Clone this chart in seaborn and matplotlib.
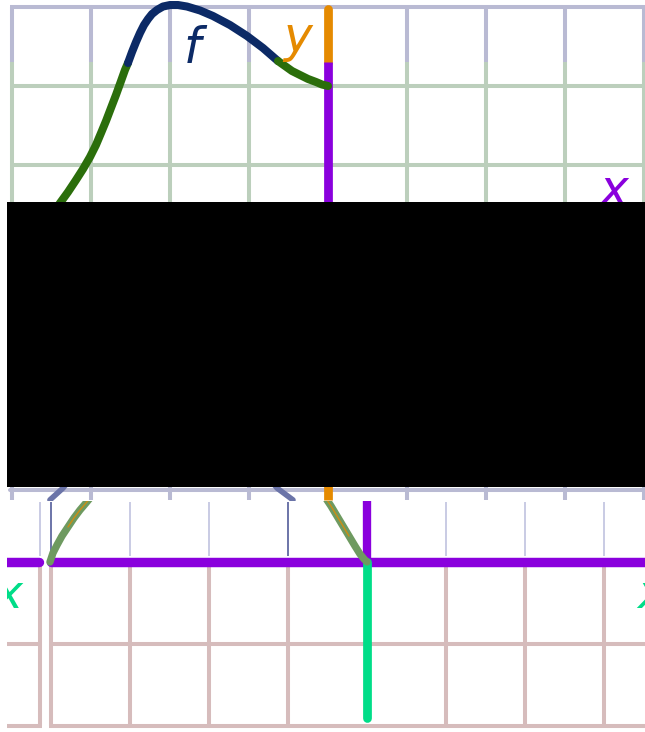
import matplotlib
matplotlib.use("Agg")
import matplotlib.pyplot as plt
from matplotlib.patches import Rectangle
import seaborn as sns
import pandas as pd

sns.set_theme(style="white")
plt.rcParams['font.family'] = ['DejaVu Sans']

# ---------------- data (units of one grid cell) ----------------
# top panel: curve f
f_x = [-3.494, -3.392, -3.291, -3.190, -3.101, -3.013, -2.937, -2.873,
       -2.810, -2.747, -2.684, -2.620, -2.570, -2.532, -2.481, -2.430,
       -2.380, -2.329, -2.278, -2.228, -2.165, -2.089, -2.000, -1.899,
       -1.785, -1.620, -1.456, -1.241, -1.025, -0.823, -0.633, -0.544,
       -0.456, -0.354, -0.253, -0.152, -0.076, 0.0]
f_y = [0.367, 0.519, 0.658, 0.810, 0.949, 1.101, 1.253, 1.405,
       1.557, 1.722, 1.886, 2.063, 2.203, 2.291, 2.430, 2.557,
       2.671, 2.772, 2.848, 2.911, 2.962, 3.006, 3.025, 3.025,
       3.006, 2.956, 2.886, 2.772, 2.633, 2.481, 2.316, 2.253,
       2.190, 2.139, 2.089, 2.051, 2.019, 2.000]
# index ranges of the three coloured pieces (boundary points shared)
f_pieces = {"low1": (0, 13), "high": (13, 30), "low2": (30, 37)}
f_threshold = 2.3

top_grid_x = [-4, -3, -2, -1, 1, 2, 3, 4]
top_grid_y = [3, 2, 1, 0, -1, -2]
top_bottom_line = -3.11

# slate pieces near the lower edge of the top panel
slate_a_x = [-3.52, -3.354, -3.29]
slate_a_y = [-3.24, -3.089, -3.01]
slate_b_x = [-0.709, -0.646, -0.443]
slate_b_y = [-3.01, -3.089, -3.24]

# bottom panel: curve g pieces
g1_x = [-4.013, -3.975, -3.924, -3.861, -3.785, -3.709, -3.633, -3.557, -3.506]
g1_y = [0.0, 0.110, 0.207, 0.317, 0.427, 0.537, 0.634, 0.720, 0.780]
g2_x = [-0.532, -0.456, -0.380, -0.304, -0.228, -0.152, -0.089, -0.038, 0.0]
g2_y = [0.793, 0.683, 0.561, 0.439, 0.317, 0.195, 0.098, 0.037, 0.0]

bot_grid_x = [-4, -3, -2, -1, 1, 2, 3]
bot_grid_y = [-1, -2]
left_border = -4.14

labels_top = ["f", "y", "x"]
labels_bottom = ["x", "x"]

# ---------------- colours ----------------
LAV = "#b9bad3"
GRN = "#bccfbc"
BRN = "#d6bcbc"
PURPLE = "#8a00dd"
ORANGE = "#e58a00"
MINT = "#00dd88"
DKGREEN = "#2b6e0b"
NAVY = "#0c2a66"
GGRAY = "#6e9a60"
SLATE = "#6b74a8"

W, H = 645, 732
fig = plt.figure(figsize=(W / 100, H / 100), dpi=100)
fig.patch.set_facecolor("white")

# ---------------- top panel ----------------
axT = fig.add_axes([7 / W, (H - 501) / H, 638 / W, 501 / H])
axT.set_xlim((7 - 328) / 79, (645 - 328) / 79)
axT.set_ylim((244 - 501) / 79, 244 / 79)
axT.set_axis_off()

glw = 2.9
for gx in top_grid_x:
    axT.plot([gx, gx], [f_threshold, 3.0], color=LAV, lw=glw, solid_capstyle="butt", zorder=1)
    axT.plot([gx, gx], [-2.9, f_threshold], color=GRN, lw=glw, solid_capstyle="butt", zorder=1)
    axT.plot([gx, gx], [-3.24, -2.9], color=LAV, lw=glw, solid_capstyle="butt", zorder=1)
for gy in top_grid_y:
    axT.plot([-4.03, 4.2], [gy, gy], color=LAV if gy > f_threshold else GRN,
             lw=glw, solid_capstyle="butt", zorder=1)
axT.plot([-4.03, 4.2], [top_bottom_line] * 2, color=LAV, lw=glw, zorder=1)

# axes of the top panel
axT.plot([-4.2, 4.2], [0, 0], color=PURPLE, lw=7, zorder=3)
axT.plot([0, 0], [f_threshold, 2.97], color=ORANGE, lw=6.3, solid_capstyle="round", zorder=3)
axT.plot([0, 0], [-3.0, f_threshold], color=PURPLE, lw=6.3, solid_capstyle="butt", zorder=3)
axT.plot([0, 0], [-3.24, -3.0], color=ORANGE, lw=6.3, solid_capstyle="butt", zorder=3)

df_f = pd.DataFrame({"x": f_x, "y": f_y})
parts = [df_f.iloc[a:b + 1].assign(seg=name) for name, (a, b) in f_pieces.items()]
df_plot = pd.concat(parts, ignore_index=True)
sns.lineplot(data=df_plot, x="x", y="y", hue="seg", units="seg", estimator=None,
             sort=False, palette={"low1": DKGREEN, "high": NAVY, "low2": DKGREEN},
             lw=5.8, legend=False, ax=axT, zorder=4, solid_capstyle="round",
             solid_joinstyle="round")

sns.lineplot(x=slate_a_x, y=slate_a_y, sort=False, estimator=None, color=SLATE, lw=4, ax=axT, zorder=4)
sns.lineplot(x=slate_b_x, y=slate_b_y, sort=False, estimator=None, color=SLATE, lw=4, ax=axT, zorder=4)

axT.text(-1.72, 2.29, labels_top[0], color=NAVY, fontsize=35, style="italic",
         ha="center", va="baseline", zorder=5)
axT.text(-0.39, 2.43, labels_top[1], color=ORANGE, fontsize=35, style="italic",
         ha="center", va="baseline", zorder=5)
axT.text(3.62, 0.49, labels_top[2], color=PURPLE, fontsize=35, style="italic",
         ha="center", va="baseline", zorder=5, clip_on=True)

# ---------------- bottom panel ----------------
axB = fig.add_axes([7 / W, 0, 638 / W, 231 / H])
axB.set_xlim((7 - 367) / 79, (645 - 367) / 79)
axB.set_ylim((562 - 732) / 82, (562 - 501) / 82)
axB.set_axis_off()

for gx in bot_grid_x + [left_border]:
    axB.plot([gx, gx], [-2.0, 0], color=BRN, lw=glw, solid_capstyle="butt", zorder=1)
    thin = SLATE if gx in (-4, -1) else "#c9cbe4"
    axB.plot([gx, gx], [0.07, 0.73], color=thin, lw=1.4, solid_capstyle="butt", zorder=1)
for gy in bot_grid_y:
    axB.plot([-4.02, 4.0], [gy, gy], color=BRN, lw=glw, solid_capstyle="butt", zorder=1)
    axB.plot([-4.7, left_border + 0.02], [gy, gy], color=BRN, lw=glw, solid_capstyle="butt", zorder=1)

axB.plot([-4.8, -4.158], [0, 0], color=PURPLE, lw=6.8, solid_capstyle="round", zorder=3)
axB.plot([-3.994, 4.0], [0, 0], color=PURPLE, lw=6.8, solid_capstyle="round", zorder=3)
axB.plot([0, 0], [0, 0.8], color=PURPLE, lw=6.0, solid_capstyle="butt", zorder=3)
axB.plot([0, 0], [-1.90, 0], color=MINT, lw=6.3, solid_capstyle="round", zorder=3)

for gx_, gy_ in [(g1_x, g1_y), (g2_x, g2_y)]:
    sns.lineplot(x=gx_, y=gy_, sort=False, estimator=None, color=GGRAY, lw=5.3,
                 ax=axB, zorder=4, solid_capstyle="round", solid_joinstyle="round")
sns.lineplot(x=g1_x[4:], y=g1_y[4:], sort=False, estimator=None, color=ORANGE, lw=1.0,
             alpha=0.8, ax=axB, zorder=5)
sns.lineplot(x=g2_x[:5], y=g2_y[:5], sort=False, estimator=None, color=ORANGE, lw=1.0,
             alpha=0.8, ax=axB, zorder=5)

axB.text(-4.54, -0.56, labels_bottom[0], color=MINT, fontsize=34, style="italic",
         ha="center", va="baseline", zorder=5, clip_on=True)
axB.text(3.6, -0.56, labels_bottom[1], color=MINT, fontsize=34, style="italic",
         ha="center", va="baseline", zorder=5, clip_on=True)

# ---------------- occluding block ----------------
fig.add_artist(Rectangle((7 / W, (H - 487) / H), 638 / W, 285 / H,
                         transform=fig.transFigure, facecolor="black",
                         edgecolor="none", zorder=10))

fig.savefig("out.png", dpi=100, facecolor="white")
